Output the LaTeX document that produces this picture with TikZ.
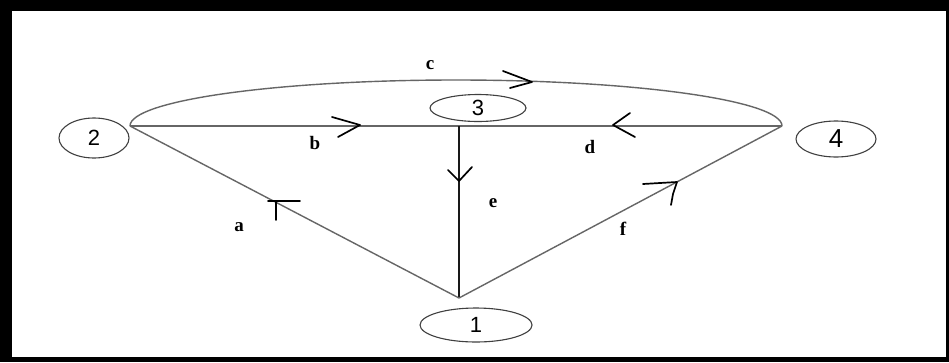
\documentclass[tikz,border=0pt]{standalone}
\usepackage{fontspec}
\setmainfont{Liberation Serif}
\newfontfamily\digitfont{Liberation Sans}
\usetikzlibrary{shapes.geometric}
\begin{document}
\begin{tikzpicture}[x=1pt,y=-1pt,
  vertex/.style={draw=black!75,line width=1.1pt,ellipse,inner sep=0pt,
    font=\digitfont\fontsize{22}{22}\selectfont},
  edge/.style={draw=black!60,line width=1.4pt},
  darkedge/.style={draw=black!90,line width=1.4pt},
  dirmark/.style={draw=black,line width=1.7pt,line join=round,line cap=round},
  lbl/.style={font=\bfseries\fontsize{19}{19}\selectfont,inner sep=0pt}]
  % frame
  \fill[black] (0,0) rectangle (949,362);
  \fill[white] (12,11) rectangle (946,357);
  \useasboundingbox (0,0) rectangle (949,362);
  % nodes
  \node[vertex,minimum width=70,minimum height=40] (n2) at (94,138) {2};
  \node[vertex,minimum width=80,minimum height=36,font=\digitfont\fontsize{26}{26}\selectfont] (n4) at (836,139) {4};
  \node[vertex,minimum width=96,minimum height=27] (n3) at (478,108) {3};
  \node[vertex,minimum width=112,minimum height=34] (n1) at (476,325) {1};
  % junctions
  \coordinate (j2) at (130,126);
  \coordinate (j4) at (782,126);
  \coordinate (j3) at (459,126);
  \coordinate (j1) at (459,298);
  \coordinate (ctop) at (456,80);
  % edges
  \draw[edge] (j2) .. controls (130,100.6) and (276,80) .. (ctop)
                   .. controls (636,80) and (782,100.6) .. (j4);
  \draw[edge] (j2) -- (j4);
  \draw[darkedge] (j3) -- (j1);
  \draw[edge] (j1) -- (j2);
  \draw[edge] (j1) -- (j4);
  % direction marks
  \draw[dirmark] (332,117) -- (360,125) -- (338,137);   % b
  \draw[dirmark] (503,71) -- (532,82) -- (510,88);      % c
  \draw[dirmark] (630,113) -- (613,125) -- (635,137);   % d
  \draw[dirmark] (448,170) -- (459,181) -- (472,167);   % e
  \draw[dirmark] (300,201) -- (268,201) (276,201) -- (276,220); % a
  \draw[dirmark] (643,184) -- (677,182) -- (673,194) -- (671,205); % f
  % labels
  \node[lbl] (lc) at (430,65) {c};
  \node[lbl] (lb) at (315,143) {b};
  \node[lbl] (ld) at (590,147) {d};
  \node[lbl] (le) at (493,203) {e};
  \node[lbl] (la) at (239,227) {a};
  \node[lbl] (lf) at (623,229) {f};
\end{tikzpicture}
\end{document}
